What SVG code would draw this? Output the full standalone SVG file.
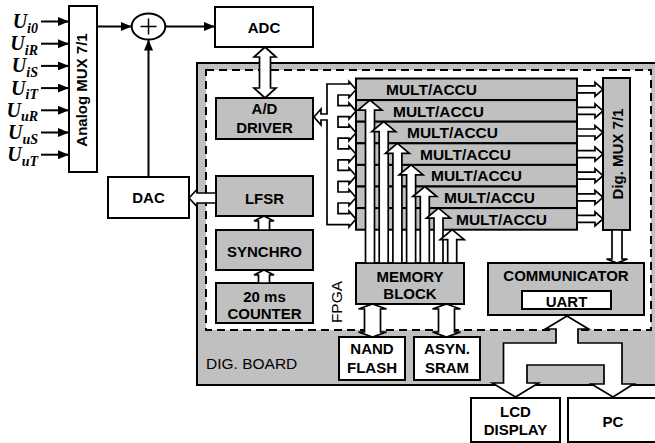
<svg xmlns="http://www.w3.org/2000/svg" width="655" height="443" viewBox="0 0 655 443">
<style>
.g{fill:#c0c0c0;stroke:#000;stroke-width:2}
.w{fill:#fff;stroke:#000;stroke-width:2}
.h{fill:#fff;stroke:#000;stroke-width:1.7;stroke-linejoin:miter}
.ln{fill:none;stroke:#000;stroke-width:2}
.t{font-family:"Liberation Sans",Arial,sans-serif;font-weight:bold;font-size:15px;text-anchor:middle;fill:#000}
.m{font-family:"Liberation Sans",Arial,sans-serif;font-weight:bold;font-size:15.5px;fill:#000}
.r{font-family:"Liberation Sans",Arial,sans-serif;font-size:15.5px;fill:#000}
.u{font-family:"Liberation Serif","Times New Roman",serif;font-weight:bold;font-style:italic;font-size:20px;text-anchor:end;fill:#000}
.s{font-size:14px}
</style>
<defs>
<marker id="ah" markerWidth="11" markerHeight="9" refX="11" refY="4.5" orient="auto" markerUnits="userSpaceOnUse"><path d="M0,0 L11,4.5 L0,9 Z" fill="#000"/></marker>
</defs>

<g id="dig-board">
<rect x="197" y="63" width="465" height="322" class="g"/>
<text x="206" y="369" class="r">DIG. BOARD</text>
</g>
<g id="fpga">
<rect x="206" y="70" width="445" height="260" fill="#fff" stroke="#000" stroke-width="2" stroke-dasharray="8,5"/>
<text transform="translate(342,302) rotate(-90)" class="r" text-anchor="middle">FPGA</text>
</g>

<g id="inputs">
<text x="38" y="28"  class="u">U<tspan class="s" dy="4.5">i0</tspan></text>
<text x="38" y="50.2" class="u">U<tspan class="s" dy="4.5">iR</tspan></text>
<text x="38" y="72.4" class="u">U<tspan class="s" dy="4.5">iS</tspan></text>
<text x="38" y="94.6" class="u">U<tspan class="s" dy="4.5">iT</tspan></text>
<text x="38" y="116.8" class="u">U<tspan class="s" dy="4.5">uR</tspan></text>
<text x="38" y="139" class="u">U<tspan class="s" dy="4.5">uS</tspan></text>
<text x="38" y="161.2" class="u">U<tspan class="s" dy="4.5">uT</tspan></text>
</g>

<g id="analog-mux">
<rect x="69" y="6" width="28" height="166" class="w"/>
<text transform="translate(87,90) rotate(-90)" class="t">Analog MUX 7/1</text>
</g>

<g id="sum">
<ellipse cx="148.5" cy="26.5" rx="16.8" ry="13" class="w"/>
<path d="M140.5,26.5 H156.5 M148.5,18.5 V34.5" stroke="#000" stroke-width="1.5"/>
</g>

<g id="adc">
<rect x="215" y="7" width="98" height="40" class="w"/>
<text x="264" y="32.5" class="t">ADC</text>
</g>

<g id="dac">
<rect x="108" y="177" width="81" height="41" class="w"/>
<text x="148.5" y="203" class="t">DAC</text>
</g>

<g id="ad-driver">
<rect x="216" y="98" width="97" height="41" class="g"/>
<text x="264.5" y="114" class="t">A/D</text>
<text x="264.5" y="133" class="t">DRIVER</text>
</g>

<g id="lfsr">
<rect x="216" y="176" width="97" height="40" class="g"/>
<text x="264.5" y="204" class="t">LFSR</text>
</g>

<g id="synchro">
<rect x="216" y="230" width="97" height="40" class="g"/>
<text x="264.5" y="256.5" class="t">SYNCHRO</text>
</g>

<g id="counter">
<rect x="216" y="283" width="97" height="40" class="g"/>
<text x="264.5" y="301.5" class="t">20 ms</text>
<text x="264.5" y="319" class="t">COUNTER</text>
</g>

<g id="mult-accu">
<rect x="356" y="78.5" width="221" height="21.6" class="g"/>
<rect x="356" y="100.1" width="221" height="21.6" class="g"/>
<rect x="356" y="121.7" width="221" height="21.6" class="g"/>
<rect x="356" y="143.3" width="221" height="21.6" class="g"/>
<rect x="356" y="164.9" width="221" height="21.6" class="g"/>
<rect x="356" y="186.5" width="221" height="21.6" class="g"/>
<rect x="356" y="208.1" width="221" height="21.6" class="g"/>
<text x="386" y="95" class="m">MULT/ACCU</text>
<text x="393" y="116.6" class="m">MULT/ACCU</text>
<text x="407" y="138.2" class="m">MULT/ACCU</text>
<text x="420" y="159.8" class="m">MULT/ACCU</text>
<text x="431" y="181.4" class="m">MULT/ACCU</text>
<text x="444" y="203" class="m">MULT/ACCU</text>
<text x="456" y="224.6" class="m">MULT/ACCU</text>
</g>

<g id="dig-mux">
<rect x="603" y="78" width="27" height="152" class="g"/>
<text transform="translate(622.5,154) rotate(-90)" class="t">Dig. MUX 7/1</text>
</g>

<g id="memory-block">
<rect x="356" y="263" width="108" height="41" class="g"/>
<text x="410" y="282" class="t">MEMORY</text>
<text x="410" y="299" class="t">BLOCK</text>
</g>

<g id="nand-flash">
<rect x="339" y="337" width="66" height="43" class="w"/>
<text x="372" y="354" class="t">NAND</text>
<text x="372" y="373" class="t">FLASH</text>
</g>

<g id="asyn-sram">
<rect x="414" y="337" width="66" height="43" class="w"/>
<text x="447" y="354" class="t">ASYN.</text>
<text x="447" y="373" class="t">SRAM</text>
</g>

<g id="communicator">
<rect x="488" y="263" width="156" height="52" class="g"/>
<text x="566" y="281" class="t">COMMUNICATOR</text>
<rect x="522" y="291" width="89" height="18" class="w"/>
<text x="566.5" y="306.5" class="t">UART</text>
</g>

<g id="lcd-display">
<rect x="471" y="398" width="89" height="44" class="w"/>
<text x="515.5" y="417" class="t">LCD</text>
<text x="515.5" y="435" class="t">DISPLAY</text>
</g>

<g id="pc">
<rect x="568" y="398" width="92" height="44" class="w"/>
<text x="613" y="427" class="t">PC</text>
</g>

<g id="connectors">
<line x1="41" y1="21.5" x2="69" y2="21.5" class="ln" marker-end="url(#ah)"/>
<line x1="41" y1="43.7" x2="69" y2="43.7" class="ln" marker-end="url(#ah)"/>
<line x1="41" y1="65.9" x2="69" y2="65.9" class="ln" marker-end="url(#ah)"/>
<line x1="41" y1="88.1" x2="69" y2="88.1" class="ln" marker-end="url(#ah)"/>
<line x1="41" y1="110.3" x2="69" y2="110.3" class="ln" marker-end="url(#ah)"/>
<line x1="41" y1="132.5" x2="69" y2="132.5" class="ln" marker-end="url(#ah)"/>
<line x1="41" y1="154.7" x2="69" y2="154.7" class="ln" marker-end="url(#ah)"/>
<line x1="97" y1="26.5" x2="131.7" y2="26.5" class="ln" marker-end="url(#ah)"/>
<line x1="165.3" y1="26.5" x2="215" y2="26.5" class="ln" marker-end="url(#ah)"/>
<line x1="148.5" y1="177" x2="148.5" y2="39.5" class="ln" marker-end="url(#ah)"/>

<polygon class="h" points="265,47 276,57 270.5,57 270.5,88 276,88 265,98 254,88 259.5,88 259.5,57 254,57"/>
<polygon class="h" points="189,198 197,189.5 197,193 216,193 216,203 197,203 197,206.5"/>
<polygon class="h" points="264,216 274,221 269.5,221 269.5,230 258.5,230 258.5,221 254,221"/>
<polygon class="h" points="264,270 274,275 269.5,275 269.5,283 258.5,283 258.5,275 254,275"/>

<path class="h" d="M314,117 L321,109 L321,114 L327,114 L327,84 L349,84 L349,81.5 L356,89.5 L349,97.5 L349,95 L338,95 L338,105.6 L349,105.6 L349,103.1 L356,111.1 L349,119.1 L349,116.6 L338,116.6 L338,127.2 L349,127.2 L349,124.7 L356,132.7 L349,140.7 L349,138.2 L338,138.2 L338,148.8 L349,148.8 L349,146.3 L356,154.3 L349,162.3 L349,159.8 L338,159.8 L338,170.4 L349,170.4 L349,167.9 L356,175.9 L349,183.9 L349,181.4 L338,181.4 L338,192 L349,192 L349,189.5 L356,197.5 L349,205.5 L349,203 L338,203 L338,213.6 L349,213.6 L349,211.1 L356,219.1 L349,227.1 L349,224.6 L327,224.6 L327,120 L321,120 L321,125 Z"/>

<polygon class="h" points="370,100.1 382,110.1 374.5,110.1 374.5,263 365.5,263 365.5,110.1 358,110.1"/>
<polygon class="h" points="383.7,121.7 395.7,131.7 388.2,131.7 388.2,263 379.2,263 379.2,131.7 371.7,131.7"/>
<polygon class="h" points="397.4,143.3 409.4,153.3 401.9,153.3 401.9,263 392.9,263 392.9,153.3 385.4,153.3"/>
<polygon class="h" points="411.1,164.9 423.1,174.9 415.6,174.9 415.6,263 406.6,263 406.6,174.9 399.1,174.9"/>
<polygon class="h" points="424.8,186.5 436.8,196.5 429.3,196.5 429.3,263 420.3,263 420.3,196.5 412.8,196.5"/>
<polygon class="h" points="438.5,208.1 450.5,218.1 443,218.1 443,263 434,263 434,218.1 426.5,218.1"/>
<polygon class="h" points="452.2,229.7 464.2,239.7 456.7,239.7 456.7,263 447.7,263 447.7,239.7 440.2,239.7"/>

<polygon class="h" points="577,85.8 595,85.8 595,82.3 603,89.3 595,96.3 595,92.8 577,92.8"/>
<polygon class="h" points="577,107.4 595,107.4 595,103.9 603,110.9 595,117.9 595,114.4 577,114.4"/>
<polygon class="h" points="577,129 595,129 595,125.5 603,132.5 595,139.5 595,136 577,136"/>
<polygon class="h" points="577,150.6 595,150.6 595,147.1 603,154.1 595,161.1 595,157.6 577,157.6"/>
<polygon class="h" points="577,172.2 595,172.2 595,168.7 603,175.7 595,182.7 595,179.2 577,179.2"/>
<polygon class="h" points="577,193.8 595,193.8 595,190.3 603,197.3 595,204.3 595,200.8 577,200.8"/>
<polygon class="h" points="577,215.4 595,215.4 595,211.9 603,218.9 595,225.9 595,222.4 577,222.4"/>

<polygon class="h" points="612,230 622,230 622,259 627.5,259 617,263 606.5,259 612,259"/>

<polygon class="h" points="372.5,304 386.5,309 380.5,309 380.5,332 386.5,332 372.5,337 358.5,332 364.5,332 364.5,309 358.5,309"/>
<polygon class="h" points="446.5,304 460.5,309 454.5,309 454.5,332 460.5,332 446.5,337 432.5,332 438.5,332 438.5,309 432.5,309"/>

<polygon class="h" points="567,316 588.5,329 578,329 578,343 622,343 622,384 633.5,384 613,397 591.5,384 604,384 604,365 527,365 527,383 538.5,383 515.5,397 492.5,383 503.5,383 503.5,343 556,343 556,329 545.5,329"/>
</g>
</svg>
